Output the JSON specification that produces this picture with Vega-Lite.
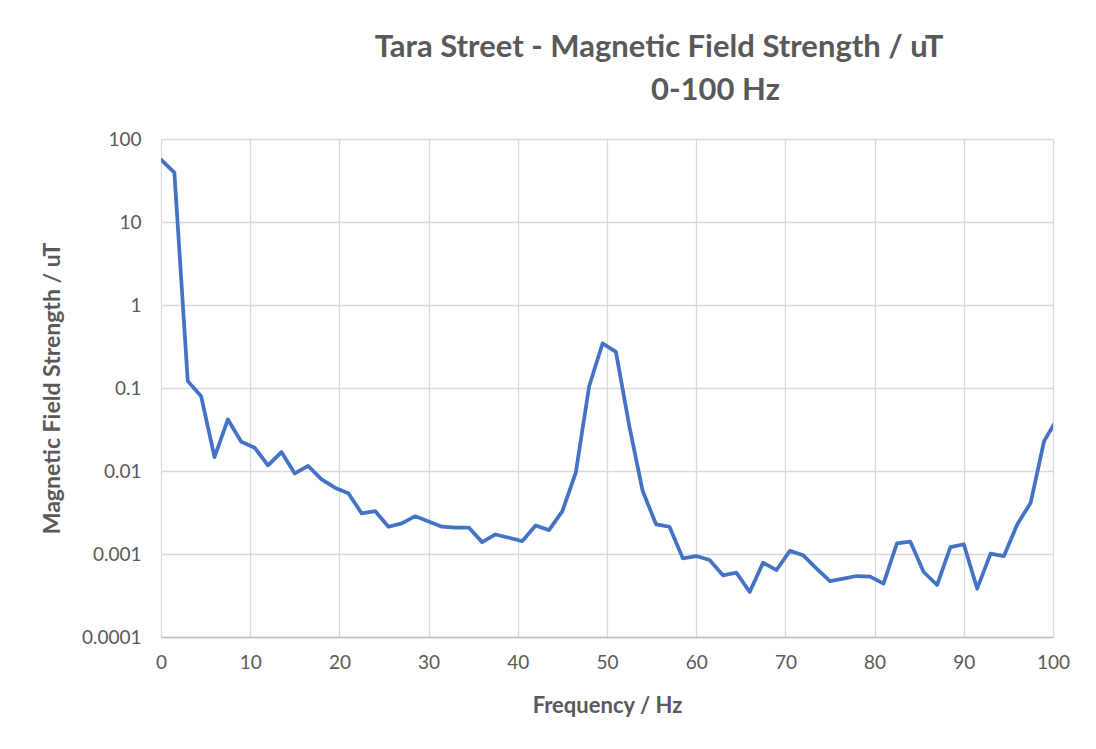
{
  "$schema": "https://vega.github.io/schema/vega-lite/v6.json",
  "autosize": {"type": "none"},
  "padding": {"left": 161, "top": 139, "right": 43, "bottom": 111},
  "width": 892,
  "height": 498,
  "background": "white",
  "title": {
    "text": ["Tara Street - Magnetic Field Strength / uT", "\u200b\u00a0\u00a0\u00a0\u00a0\u00a0\u00a0\u00a0\u00a0\u00a0\u00a0\u00a0\u00a0\u00a0\u00a0\u00a00-100 Hz"],
    "anchor": "middle",
    "dx": 52,
    "offset": 23,
    "font": "Lato",
    "fontSize": 31,
    "fontWeight": "bold",
    "color": "#595959",
    "lineHeight": 43
  },
  "data": {
    "values": [
      {"f": 0, "b": 56.3}, {"f": 1.5, "b": 39.3}, {"f": 3, "b": 0.121}, {"f": 4.5, "b": 0.0796},
      {"f": 6, "b": 0.0147}, {"f": 7.5, "b": 0.0418}, {"f": 9, "b": 0.0225}, {"f": 10.5, "b": 0.0191},
      {"f": 12, "b": 0.0117}, {"f": 13.5, "b": 0.0169}, {"f": 15, "b": 0.00935}, {"f": 16.5, "b": 0.0115},
      {"f": 18, "b": 0.00792}, {"f": 19.5, "b": 0.00629}, {"f": 21, "b": 0.0054}, {"f": 22.5, "b": 0.00308},
      {"f": 24, "b": 0.00329}, {"f": 25.5, "b": 0.00213}, {"f": 27, "b": 0.00234}, {"f": 28.5, "b": 0.00286},
      {"f": 30, "b": 0.00247}, {"f": 31.5, "b": 0.00213}, {"f": 33, "b": 0.00208}, {"f": 34.5, "b": 0.00208},
      {"f": 36, "b": 0.00139}, {"f": 37.5, "b": 0.00172}, {"f": 39, "b": 0.00157}, {"f": 40.5, "b": 0.00143},
      {"f": 42, "b": 0.00221}, {"f": 43.5, "b": 0.00194}, {"f": 45, "b": 0.00329}, {"f": 46.5, "b": 0.00953},
      {"f": 48, "b": 0.105}, {"f": 49.5, "b": 0.344}, {"f": 51, "b": 0.273}, {"f": 52.5, "b": 0.0347},
      {"f": 54, "b": 0.00573}, {"f": 55.5, "b": 0.00228}, {"f": 57, "b": 0.00213}, {"f": 58.5, "b": 0.000887},
      {"f": 60, "b": 0.000944}, {"f": 61.5, "b": 0.000845}, {"f": 63, "b": 0.000553}, {"f": 64.5, "b": 0.000596},
      {"f": 66, "b": 0.000348}, {"f": 67.5, "b": 0.000787}, {"f": 69, "b": 0.000641}, {"f": 70.5, "b": 0.00109},
      {"f": 72, "b": 0.000964}, {"f": 73.5, "b": 0.000667}, {"f": 75, "b": 0.000472}, {"f": 76.5, "b": 0.000505},
      {"f": 78, "b": 0.000543}, {"f": 79.5, "b": 0.000534}, {"f": 81, "b": 0.00044}, {"f": 82.5, "b": 0.00134},
      {"f": 84, "b": 0.00141}, {"f": 85.5, "b": 0.000607}, {"f": 87, "b": 0.000423}, {"f": 88.5, "b": 0.00121},
      {"f": 90, "b": 0.00131}, {"f": 91.5, "b": 0.000383}, {"f": 93, "b": 0.00101}, {"f": 94.5, "b": 0.000944},
      {"f": 96, "b": 0.00228}, {"f": 97.5, "b": 0.00415}, {"f": 99, "b": 0.0229}, {"f": 100.5, "b": 0.043}
    ]
  },
  "mark": {
    "type": "line",
    "clip": true,
    "color": "#4472C4",
    "strokeWidth": 3.75,
    "strokeJoin": "round",
    "strokeCap": "round"
  },
  "encoding": {
    "x": {
      "field": "f",
      "type": "quantitative",
      "scale": {"domain": [0, 100], "nice": false, "zero": false},
      "axis": {
        "title": "Frequency / Hz",
        "values": [0, 10, 20, 30, 40, 50, 60, 70, 80, 90, 100],
        "grid": true,
        "ticks": false,
        "labelFlush": false,
        "domainColor": "#bfbfbf",
        "domainWidth": 1.5,
        "labelPadding": 16,
        "titlePadding": 23
      }
    },
    "y": {
      "field": "b",
      "type": "quantitative",
      "scale": {"type": "log", "domain": [0.0001, 100], "nice": false},
      "axis": {
        "title": "Magnetic Field Strength / uT",
        "values": [0.0001, 0.001, 0.01, 0.1, 1, 10, 100],
        "format": "~g",
        "grid": true,
        "ticks": false,
        "domain": false,
        "labelPadding": 20,
        "titlePadding": 17,
        "titleFontSize": 23
      }
    }
  },
  "config": {
    "view": {"stroke": null},
    "axis": {
      "gridColor": "#d9d9d9",
      "gridWidth": 1.3,
      "labelFont": "Lato",
      "labelFontSize": 19,
      "labelColor": "#595959",
      "titleFont": "Lato",
      "titleFontSize": 22,
      "titleFontWeight": "bold",
      "titleColor": "#595959"
    }
  }
}
